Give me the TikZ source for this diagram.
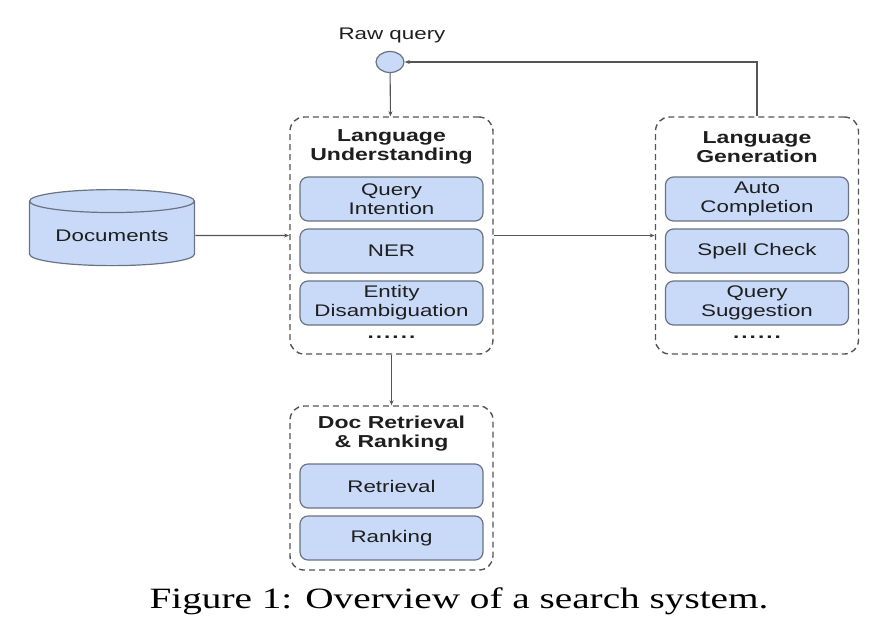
\documentclass[tikz,border=0pt]{standalone}
\usepackage{fontspec}
\setmainfont{Liberation Sans}
\newfontfamily\capfont{Liberation Serif}
\usepackage{tikz}
\usetikzlibrary{arrows.meta, shapes.geometric, positioning}
\definecolor{boxfill}{RGB}{201,218,248}
\definecolor{boxdraw}{RGB}{105,115,130}
\definecolor{linegray}{RGB}{85,85,85}
\definecolor{textgray}{RGB}{30,30,30}
\tikzset{global stretch/.style={
    every node/.append style={xscale=#1}
  }
}

\begin{document}
\begin{tikzpicture}[global stretch = 1.33, x=1pt, y=-1pt,
    every node/.append style={text=textgray, font=\fontsize{16.8}{19}\selectfont},
    group/.style={draw=linegray, dashed, dash pattern=on 6pt off 4pt, line width=1.4pt, rounded corners=14pt, minimum width=152.6pt, minimum height=237pt},
    title/.style={font=\fontsize{17.3}{19}\selectfont\bfseries, align=center},
    task/.style={draw=boxdraw, fill=boxfill, line width=1.2pt, rounded corners=8pt, minimum width=137.6pt, minimum height=44pt, align=center, inner sep=1pt},
    store/.style={cylinder, shape border rotate=90, aspect=0.25, draw=boxdraw, fill=boxfill, line width=1.2pt, minimum width=124pt, minimum height=76pt},
    more/.style={font=\fontsize{17}{19}\selectfont\bfseries},
    flow/.style={-{Stealth[length=5pt, width=4pt]}, line width=1.1pt, color=linegray}
]
    \useasboundingbox (0,0) rectangle (870,625);

    % raw query input
    \node[name=rawlabel] at(392,35) {Raw query};
    \node[circle, draw=boxdraw, fill=boxfill, line width=1.2pt, minimum size=21pt, inner sep=0pt, name=raw] at(390,62) {};

    \node[store, name=docs] at(112,235.5) {Documents};

    % language understanding
    \node[group, name=lu] at(391.5,235.5) {};
    \node[title, name=lutitle] at(391.5,147) {Language\\Understanding};
    \node[task, name=qi] at(391.5,199) {Query\\Intention};
    \node[task, name=ner] at(391.5,251) {NER};
    \node[task, name=ed] at(391.5,303) {Entity\\Disambiguation};
    \node[more, name=ludots] at(391.5,337) {.\kern1.5pt.\kern1.5pt.\kern1.5pt.\kern1.5pt.\kern1.5pt.};

    % language generation
    \node[group, name=lg] at(757,235.5) {};
    \node[title, name=lgtitle] at(757,147) {Language\\Generation};
    \node[task, name=ac] at(757,199) {Auto\\Completion};
    \node[task, name=sc] at(757,251) {Spell Check};
    \node[task, name=qs] at(757,303) {Query\\Suggestion};
    \node[more, name=lgdots] at(757,337) {.\kern1.5pt.\kern1.5pt.\kern1.5pt.\kern1.5pt.\kern1.5pt.};

    % retrieval and ranking
    \node[group, minimum height=164pt, name=dr] at(391.5,488) {};
    \node[title, name=drtitle] at(391.5,434) {Doc Retrieval\\\& Ranking};
    \node[task, name=ret] at(391.5,486) {Retrieval};
    \node[task, name=rank] at(391.5,538) {Ranking};

    \node[font=\fontsize{29.5}{32}\selectfont\capfont, text=black, name=caption] at(459,601) {Figure 1: Overview of a search system.};

    \draw[flow] (raw) -- (lu);
    \draw[flow] (docs) -- (lu);
    \draw[flow] (lu) -- (lg);
    \draw[flow] (lu) -- (dr);
    \draw[flow] (lg.north) |- (raw);
\end{tikzpicture}
\end{document}
